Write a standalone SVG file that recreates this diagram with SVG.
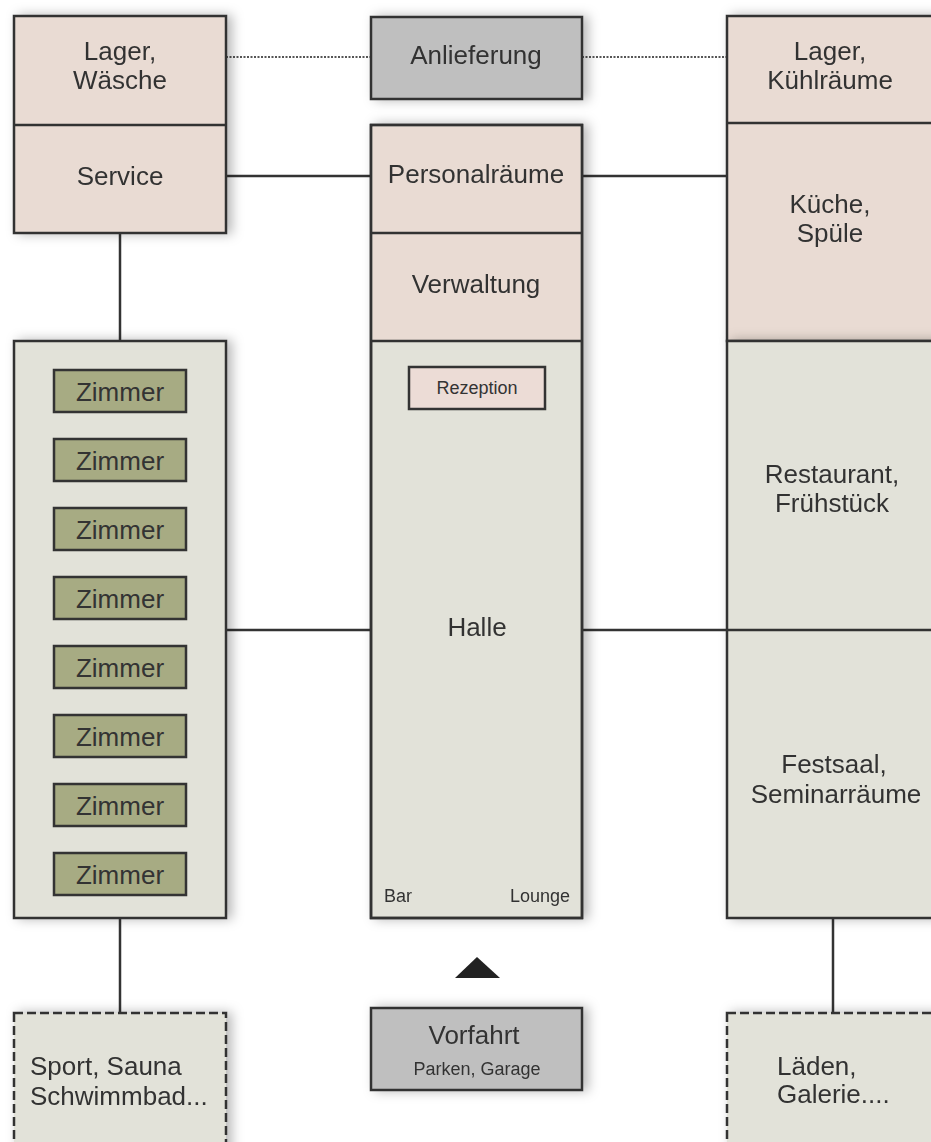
<svg xmlns="http://www.w3.org/2000/svg" width="931" height="1142" viewBox="0 0 931 1142">
<defs>
<filter id="sh" x="-20%" y="-20%" width="140%" height="140%">
<feDropShadow dx="5" dy="0" stdDeviation="6" flood-color="#000" flood-opacity="0.28"/>
</filter>
</defs>
<style>
text{font-family:"Liberation Sans",Arial,sans-serif;fill:#333;}
.t{font-size:26px;text-anchor:middle;}
.l{font-size:26px;text-anchor:start;}
.s{font-size:18px;}
.pink{fill:#e9dbd3;stroke:#333;stroke-width:2.5;}
.gr{fill:#e2e2d9;stroke:#333;stroke-width:2.5;}
.dk{fill:#bfbfbf;stroke:#333;stroke-width:2.5;}
.zi{fill:#a7ab83;stroke:#333;stroke-width:2.5;}
.dash{fill:#e2e2d9;stroke:#333;stroke-width:2.5;stroke-dasharray:9 4;}
.ln{stroke:#333;stroke-width:2.5;fill:none;}
.dot{stroke:#555;stroke-width:2;stroke-dasharray:2 1.5;fill:none;}
</style>
<rect width="931" height="1142" fill="#fff"/>

<g id="connectors">
<line class="dot" x1="226" y1="57" x2="371" y2="57"/>
<line class="dot" x1="582" y1="57" x2="727" y2="57"/>
<line class="ln" x1="226" y1="176" x2="371" y2="176"/>
<line class="ln" x1="582" y1="176" x2="727" y2="176"/>
<line class="ln" x1="120" y1="233" x2="120" y2="341"/>
<line class="ln" x1="226" y1="630" x2="371" y2="630"/>
<line class="ln" x1="582" y1="630" x2="727" y2="630"/>
<line class="ln" x1="120" y1="918" x2="120" y2="1013"/>
<line class="ln" x1="833" y1="918" x2="833" y2="1013"/>
<line class="ln" x1="476" y1="341" x2="476" y2="367"/>
<polygon points="477,957 500,978 455,978" fill="#222"/>
</g>

<g id="left-top" filter="url(#sh)">
<rect class="pink" x="14" y="16" width="212" height="217"/>
<line class="ln" x1="14" y1="125" x2="226" y2="125"/>
<text class="t" x="120" y="60">Lager,</text>
<text class="t" x="120" y="89">Wäsche</text>
<text class="t" x="120" y="185">Service</text>
</g>

<g id="anlieferung" filter="url(#sh)">
<rect class="dk" x="371" y="17" width="211" height="82"/>
<text class="t" x="476" y="64">Anlieferung</text>
</g>

<g id="right-top" filter="url(#sh)">
<rect class="pink" x="727" y="16" width="212" height="325"/>
<line class="ln" x1="727" y1="123" x2="939" y2="123"/>
<text class="t" x="830" y="60">Lager,</text>
<text class="t" x="830" y="89">Kühlräume</text>
<text class="t" x="830" y="213">Küche,</text>
<text class="t" x="830" y="242">Spüle</text>
</g>

<g id="middle" filter="url(#sh)">
<rect class="gr" x="371" y="125" width="211" height="793"/>
<rect x="372.5" y="126.5" width="208" height="214.5" fill="#e9dbd3"/>
<line class="ln" x1="371" y1="233" x2="582" y2="233"/>
<line class="ln" x1="371" y1="341" x2="582" y2="341"/>
<rect class="ln" x="371" y="125" width="211" height="793"/>
<text class="t" x="476" y="183">Personalräume</text>
<text class="t" x="476" y="293">Verwaltung</text>
<text class="t" x="477" y="636">Halle</text>
<text class="s" x="384" y="902">Bar</text>
<text class="s" x="570" y="902" text-anchor="end">Lounge</text>
</g>

<g id="rezeption">
<rect x="409" y="367" width="136" height="42" fill="#ecdcd6" stroke="#333" stroke-width="2.5"/>
<text class="s" x="477" y="394" text-anchor="middle">Rezeption</text>
</g>

<g id="right-lower" filter="url(#sh)">
<rect class="gr" x="727" y="341" width="212" height="577"/>
<line class="ln" x1="727" y1="630" x2="939" y2="630"/>
<text class="t" x="832" y="483">Restaurant,</text>
<text class="t" x="832" y="512">Frühstück</text>
<text class="t" x="834" y="773">Festsaal,</text>
<text class="t" x="836" y="803">Seminarräume</text>
</g>

<g id="zimmer-block" filter="url(#sh)">
<rect class="gr" x="14" y="341" width="212" height="577"/>
</g>
<g id="zimmer">
<rect class="zi" x="54" y="370" width="132" height="42"/><text class="t" x="120" y="401">Zimmer</text>
<rect class="zi" x="54" y="439" width="132" height="42"/><text class="t" x="120" y="470">Zimmer</text>
<rect class="zi" x="54" y="508" width="132" height="42"/><text class="t" x="120" y="539">Zimmer</text>
<rect class="zi" x="54" y="577" width="132" height="42"/><text class="t" x="120" y="608">Zimmer</text>
<rect class="zi" x="54" y="646" width="132" height="42"/><text class="t" x="120" y="677">Zimmer</text>
<rect class="zi" x="54" y="715" width="132" height="42"/><text class="t" x="120" y="746">Zimmer</text>
<rect class="zi" x="54" y="784" width="132" height="42"/><text class="t" x="120" y="815">Zimmer</text>
<rect class="zi" x="54" y="853" width="132" height="42"/><text class="t" x="120" y="884">Zimmer</text>
</g>

<g id="sport" filter="url(#sh)">
<rect class="dash" x="14" y="1013" width="212" height="150"/>
<text class="l" x="30" y="1075">Sport, Sauna</text>
<text class="l" x="30" y="1105">Schwimmbad...</text>
</g>

<g id="vorfahrt" filter="url(#sh)">
<rect class="dk" x="371" y="1008" width="211" height="82"/>
<text class="t" x="474" y="1044">Vorfahrt</text>
<text class="s" x="477" y="1075" text-anchor="middle">Parken, Garage</text>
</g>

<g id="laeden" filter="url(#sh)">
<rect class="dash" x="727" y="1013" width="212" height="150"/>
<text class="l" x="777" y="1075">Läden,</text>
<text class="l" x="777" y="1103">Galerie....</text>
</g>
</svg>
